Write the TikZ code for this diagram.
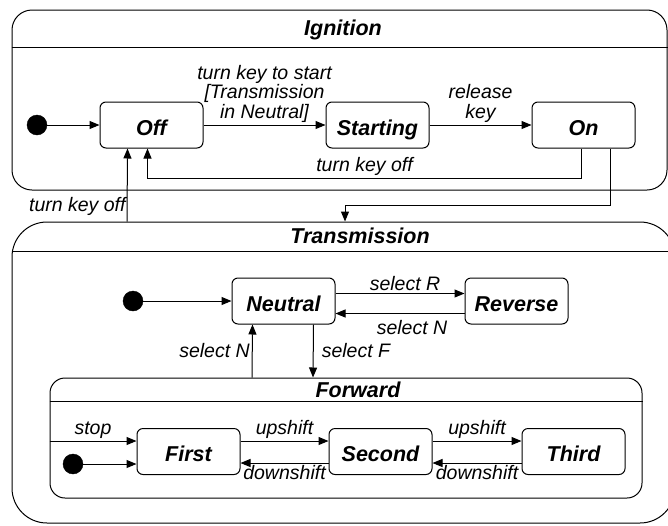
\documentclass[tikz,border=0pt]{standalone}
\usepackage{fontspec}
\setmainfont{Liberation Sans}
\usepackage{tikz}
\usetikzlibrary{arrows.meta, positioning, calc}

\begin{document}
\begin{tikzpicture}[x=1pt, y=-1pt,
        state/.style={rectangle, draw=black, line width=1pt, rounded corners=6pt, minimum width=103pt, minimum height=46pt, inner sep=0pt, text height=20pt, text depth=0pt, align=center, font=\fontsize{21.5}{24}\selectfont\bfseries\itshape},
        superstate/.style={rectangle, draw=black, line width=1pt, inner sep=0pt},
        headline/.style={anchor=base, inner sep=0pt, font=\fontsize{21.5}{24}\selectfont\bfseries\itshape},
        startdot/.style={circle, draw=black, fill=black, minimum size=20pt, inner sep=0pt},
        lbl/.style={inner sep=2pt, align=center, font=\fontsize{19.5}{19.5}\selectfont\itshape},
        arrow/.style={-{Triangle[length=10pt, width=8pt]}, line width=1pt}
    ]
    \path[use as bounding box, clip] (0,0) rectangle (668,525);

    % Ignition
    \node (ign) [superstate, rounded corners=20pt, minimum width=655pt, minimum height=180pt] at (339.5,100) {};
    \draw[line width=1pt] ($(ign.north west)+(0,38)$) -- ($(ign.north east)+(0,38)$);
    \node (igntitle) [headline] at (343,35) {Ignition};

    \node (igndot) [startdot] at (37,125) {};
    \node (off) [state] at (151.5,125) {Off};
    \node (starting) [state, right=122pt of off] {Starting};
    \node (on) [state, right=102pt of starting] {On};

    % Transmission
    \node (trans) [superstate, rounded corners=35pt, minimum width=663pt, minimum height=301pt] at (343.5,372.5) {};
    \draw[line width=1pt] ($(trans.north west)+(0,30)$) -- ($(trans.north east)+(0,30)$);
    \node (transtitle) [headline] at (360,243) {Transmission};

    \node (transdot) [startdot] at (133,301) {};
    \node (neutral) [state] at (283.5,301) {Neutral};
    \node (reverse) [state, right=129pt of neutral] {Reverse};

    % Forward
    \node (fwd) [superstate, rounded corners=15pt, minimum width=592pt, minimum height=120pt] at (346,438) {};
    \draw[line width=1pt] ($(fwd.north west)+(0,24)$) -- ($(fwd.north east)+(0,24)$);
    \node (fwdtitle) [headline] at (358,397) {Forward};

    \node (fwddot) [startdot] at (73,464) {};
    \node (first) [state] at (188.5,451.5) {First};
    \node (second) [state, right=88pt of first] {Second};
    \node (third) [state, right=89pt of second] {Third};

    % Edges in Ignition
    \draw[arrow] (igndot) -- (off);
    \draw[arrow] (off) -- node[lbl, above] {turn key to start\\{[}Transmission\\in Neutral{]}} (starting);
    \draw[arrow] (starting) -- node[lbl, above] {release\\key} (on);
    \draw[arrow] ($(on.south)+(-2,0)$) -- ++(0,30) -| node[lbl, pos=0.25, above] {turn key off} ($(off.south)+(-4,0)$);

    % Edges between superstates
    \draw[arrow] ($(on.south)+(27,0)$) -- ++(0,57) -| ($(trans.north)+(1.5,0)$);
    \draw[arrow] ($(trans.north)+(-216.5,0)$) -- node[lbl, pos=0.2, left, inner sep=1pt] {turn key off} ($(off.south)+(-24,0)$);

    % Edges in Transmission
    \draw[arrow] (transdot) -- (neutral);
    \draw[arrow] ($(neutral.east)+(0,-7.5)$) -- node[lbl, above, xshift=5pt] {select R} ($(reverse.west)+(0,-7.5)$);
    \draw[arrow] ($(reverse.west)+(0,12.5)$) -- node[lbl, below, xshift=12pt, yshift=-4pt] {select N} ($(neutral.east)+(0,12.5)$);
    \draw[arrow] ($(neutral.south)+(30,0)$) -- node[lbl, right, xshift=6pt] {select F} ($(fwd.north)+(-33,0)$);
    \draw[arrow] ($(fwd.north)+(-94,0)$) -- node[lbl, left] {select N} ($(neutral.south)+(-31,0)$);

    % Edges in Forward
    \draw[arrow] (fwddot) -- (first.west |- fwddot);
    \draw[arrow] ($(fwd.west)+(0,3)$) -- node[lbl, above] {stop} ($(first.west)+(0,-10.5)$);
    \draw[arrow] ($(first.east)+(0,-10.5)$) -- node[lbl, above] {upshift} ($(second.west)+(0,-10.5)$);
    \draw[arrow] ($(second.west)+(0,11.5)$) -- node[lbl, below] {downshift} ($(first.east)+(0,11.5)$);
    \draw[arrow] ($(second.east)+(0,-10.5)$) -- node[lbl, above] {upshift} ($(third.west)+(0,-10.5)$);
    \draw[arrow] ($(third.west)+(0,11.5)$) -- node[lbl, below] {downshift} ($(second.east)+(0,11.5)$);

\end{tikzpicture}
\end{document}
